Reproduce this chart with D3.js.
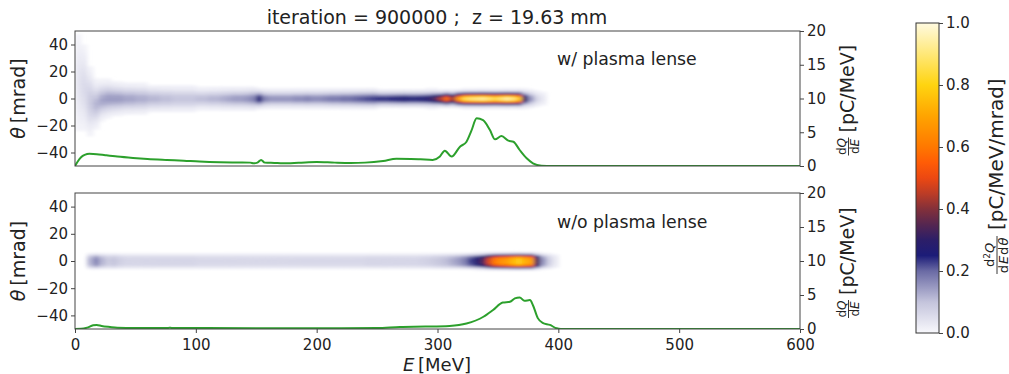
<!DOCTYPE html>
<html><head><meta charset="utf-8">
<script src="https://cdn.jsdelivr.net/npm/d3@7"></script>
<style>
body{margin:0;background:#fff}
svg{display:block}
text{font-family:"DejaVu Sans",sans-serif;fill:#222;white-space:pre}
</style></head>
<body><svg id="c" width="1009" height="374"></svg>
<script>
// ---------------- data ----------------
const titleText = "iteration = 900000 ;  z = 19.63 mm";
const panelLabels = ["w/ plasma lense", "w/o plasma lense"];
const energyTicks = [0, 100, 200, 300, 400, 500, 600];
const thetaTicks = [-40, -20, 0, 20, 40];
const dqTicks = [0, 5, 10, 15, 20];
const cbarTicks = [0, 0.2, 0.4, 0.6, 0.8, 1.0];

// energy bins of 5 MeV, starting at 0
const binStarts = d3.range(0, 400, 5);

// colormap stops
const cmapStops = [0, 0.1, 0.2, 0.25, 0.3, 0.35, 0.4, 0.45, 0.5, 0.55, 0.6, 0.7, 0.8, 0.9, 1.0];
const cmapColors = ["#f8f8fc", "#c4c4dc", "#6a6aa4", "#1c1c78", "#2c1e68", "#552650", "#83303a", "#bc3c26",
  "#ec4812", "#ff5c06", "#ff7800", "#ffa400", "#ffd410", "#ffe878", "#fffae0"];

// top panel: peak density (colour value) per energy bin
const topPeak = [0.04, 0.06, 0.09, 0.12, 0.14, 0.15, 0.15, 0.15, 0.14, 0.14,
  0.13, 0.13, 0.12, 0.12, 0.11, 0.11, 0.10, 0.10, 0.10, 0.10,
  0.11, 0.11, 0.12, 0.12, 0.13, 0.14, 0.15, 0.15, 0.16, 0.18,
  0.27, 0.18, 0.16, 0.16, 0.16, 0.16, 0.17, 0.17, 0.18, 0.17,
  0.17, 0.18, 0.19, 0.19, 0.20, 0.20, 0.21, 0.22, 0.23, 0.24,
  0.25, 0.25, 0.26, 0.27, 0.28, 0.27, 0.27, 0.28, 0.30, 0.34,
  0.45, 0.58, 0.45, 0.70, 0.88, 0.92, 0.94, 0.96, 0.92, 0.88,
  0.92, 0.97, 0.93, 0.80, 0.32, 0.16, 0.07, 0.03, 0.00, 0.00];
// top panel: angular spread (mrad) per energy bin
const topWidth = [20, 16, 12, 8, 6.5, 6, 5.5, 5.2, 5, 5,
  5, 5, 4.5, 4.5, 4.5, 4.5, 4.5, 4.5, 4.5, 4.5,
  3.8, 3.8, 3.8, 3.8, 3.8, 3.8, 3.8, 3.8, 3.8, 3.8,
  3.2, 3.2, 3.2, 3.2, 3.2, 3.2, 3.2, 3.2, 3.2, 3.2,
  3.2, 3.2, 3.2, 3.2, 3.2, 3.2, 3.2, 3.2, 3.2, 3.2,
  2.8, 2.8, 2.8, 2.8, 2.8, 2.8, 2.8, 2.8, 2.8, 2.8,
  2.5, 2.5, 2.5, 2.5, 2.5, 2.5, 2.5, 2.5, 2.5, 2.5,
  2.5, 2.5, 2.5, 2.6, 2.8, 3.0, 3.0, 3.0, 3.0, 3.0];
// top panel: angular centre (mrad) per energy bin
const topCenter = [12, 8, -2, -4, -1, 0, 0, 0, 0, 0,
  0, 0, 0, 0, 0, 0, 0, 0, 0, 0, 0, 0, 0, 0, 0, 0, 0, 0, 0, 0,
  0, 0, 0, 0, 0, 0, 0, 0, 0, 0, 0, 0, 0, 0, 0, 0, 0, 0, 0, 0,
  0, 0, 0, 0, 0, 0, 0, 0, 0, 0, 0, 0, 0, 0, 0, 0, 0, 0, 0, 0,
  0, 0, 0, 0, 0, 0, 0, 0, 0, 0];

// bottom panel
const botPeak = [0, 0, 0.12, 0.17, 0.12, 0.09, 0.10, 0.08, 0.07, 0.07,
  0.07, 0.07, 0.07, 0.07, 0.07, 0.07, 0.07, 0.07, 0.07, 0.07,
  0.065, 0.065, 0.065, 0.065, 0.065, 0.065, 0.065, 0.065, 0.065, 0.065,
  0.065, 0.065, 0.065, 0.065, 0.065, 0.065, 0.065, 0.065, 0.065, 0.065,
  0.065, 0.065, 0.065, 0.065, 0.065, 0.065, 0.065, 0.065, 0.07, 0.07,
  0.07, 0.07, 0.07, 0.07, 0.07, 0.07, 0.07, 0.075, 0.08, 0.09,
  0.10, 0.11, 0.13, 0.15, 0.18, 0.23, 0.28, 0.34, 0.48, 0.60,
  0.65, 0.68, 0.74, 0.78, 0.72, 0.68, 0.34, 0.16, 0.08, 0.03];
const botWidth = 4;   // flat-topped angular half-width (mrad)

// dQ/dE spectra: [E (MeV), pC/MeV]
const topSpectrum = [[0,0],[2,0.6],[5,1.3],[8,1.65],[12,1.8],[18,1.75],[25,1.6],[35,1.4],[48,1.2],[60,1.05],
  [76,0.9],[90,0.78],[103,0.65],[120,0.55],[135,0.52],[145,0.5],[148,0.4],[151,0.5],[154,0.9],[157,0.5],
  [165,0.45],[172,0.4],[185,0.48],[200,0.6],[215,0.5],[228,0.45],[240,0.5],[255,0.75],[266,1.08],[278,1.05],
  [286,0.99],[296,0.9],[302,1.4],[306,2.27],[311.7,1.4],[318.6,2.86],[324,3.6],[328,5.2],[332.4,7.06],[337.7,6.8],
  [343.4,5.33],[347.6,3.95],[353,4.44],[358.6,3.75],[362.8,3.6],[368,2.37],[373.8,1.14],[379,0.4],[386,0.05],[395,0],[600,0]];
const botSpectrum = [[0,0],[5,0.02],[10,0.2],[15,0.55],[18,0.6],[22,0.45],[29,0.3],[35,0.2],[50,0.15],[77,0.15],
  [78,0.2],[80,0.15],[150,0.12],[200,0.12],[250,0.15],[269,0.3],[290,0.35],[310,0.45],[324,0.8],[338,1.8],
  [346,2.8],[354,3.9],[360,4.0],[364,4.5],[368,4.65],[372,4.15],[376.5,4.25],[379,3.5],[383,1.6],[387,0.9],
  [393,0.6],[398.6,0.1],[402,0],[600,0]];

// ---------------- drawing ----------------
const svg = d3.select("#c");
const X0 = 75, X1 = 800;
const panels = [{y0: 31, y1: 166}, {y0: 193, y1: 329}];
const cmap = d3.scaleLinear().domain(cmapStops).range(cmapColors).interpolate(d3.interpolateRgb).clamp(true);
const x = d3.scaleLinear().domain([0, 600]).range([X0, X1]);
const thetaRows = d3.range(-50, 50, 1);
const TICK_FS = "15px";

const defs = svg.append("defs");
defs.append("filter").attr("id", "blur").attr("x", "-5%").attr("y", "-20%").attr("width", "110%").attr("height", "140%")
  .append("feGaussianBlur").attr("stdDeviation", "2.2 1.1");

function styleAxis(a, fs) {
  a.select(".domain").remove();
  a.selectAll("line").attr("stroke", "#444");
  a.selectAll("text").style("font-size", fs).attr("fill", "#222").style("font-family", '"DejaVu Sans",sans-serif');
}

panels.forEach((p, pi) => {
  const y = d3.scaleLinear().domain([-50, 50]).range([p.y1, p.y0]);
  const yr = d3.scaleLinear().domain([0, 20]).range([p.y1, p.y0]);
  defs.append("clipPath").attr("id", "clip" + pi).append("rect")
    .attr("x", X0).attr("y", p.y0).attr("width", X1 - X0).attr("height", p.y1 - p.y0);

  // heatmap cells
  const cells = [];
  binStarts.forEach((e, i) => {
    thetaRows.forEach(t => {
      const tc = t + 0.5;
      let v;
      if (pi === 0) {
        const z = (tc - topCenter[i]) / topWidth[i];
        v = topPeak[i] * Math.exp(-0.5 * z * z);
      } else {
        const z = tc / botWidth;
        v = botPeak[i] * Math.exp(-0.5 * Math.pow(Math.abs(z), 4));
      }
      if (v > 0.008) cells.push({e, t, v});
    });
  });
  const g = svg.append("g").attr("clip-path", `url(#clip${pi})`).append("g").attr("filter", "url(#blur)");
  g.selectAll("rect").data(cells).join("rect")
    .attr("x", d => x(d.e))
    .attr("y", d => y(d.t + 1))
    .attr("width", d => x(d.e + 5) - x(d.e) + 0.4)
    .attr("height", d => y(d.t) - y(d.t + 1) + 0.3)
    .attr("fill", d => cmap(d.v));

  // spectrum line
  const spec = pi === 0 ? topSpectrum : botSpectrum;
  svg.append("path").datum(spec)
    .attr("clip-path", `url(#clip${pi})`)
    .attr("fill", "none").attr("stroke", "#2ca02c").attr("stroke-width", 2)
    .attr("d", d3.line().x(d => x(d[0])).y(d => yr(d[1])).curve(d3.curveMonotoneX));

  // frame
  svg.append("rect").attr("x", X0).attr("y", p.y0).attr("width", X1 - X0).attr("height", p.y1 - p.y0)
    .attr("fill", "none").attr("stroke", "#444").attr("stroke-width", 1);

  // axes
  styleAxis(svg.append("g").attr("transform", `translate(${X0},0)`)
    .call(d3.axisLeft(y).tickValues(thetaTicks).tickSize(4).tickPadding(3).tickFormat(d3.format("d"))), TICK_FS);
  styleAxis(svg.append("g").attr("transform", `translate(${X1},0)`)
    .call(d3.axisRight(yr).tickValues(dqTicks).tickSize(4).tickPadding(3).tickFormat(d3.format("d"))), TICK_FS);
  if (pi === 1) {
    styleAxis(svg.append("g").attr("transform", `translate(0,${p.y1})`)
      .call(d3.axisBottom(x).tickValues(energyTicks).tickSize(4).tickPadding(6).tickFormat(d3.format("d"))), TICK_FS);
  }

  // panel annotation
  svg.append("text").attr("x", 557).attr("y", pi === 0 ? 65 : 228)
    .style("font-size", "17.3px").text(panelLabels[pi]);

  const yc = (p.y0 + p.y1) / 2;
  // left label
  const ll = svg.append("text").attr("transform", `translate(25,${yc}) rotate(-90)`)
    .attr("text-anchor", "middle").style("font-size", "19px");
  ll.append("tspan").style("font-style", "italic").text("θ");
  ll.append("tspan").text("\u2009[mrad]");

  // right label: dQ/dE [pC/MeV]
  const rg = svg.append("g").attr("transform", `translate(851,${yc}) rotate(-90)`);
  const fx = -48;
  const num = rg.append("text").attr("x", fx).attr("y", -5).attr("text-anchor", "middle").style("font-size", "12px");
  num.append("tspan").text("d"); num.append("tspan").style("font-style", "italic").text("Q");
  rg.append("line").attr("x1", fx - 9).attr("x2", fx + 9).attr("y1", -2.5).attr("y2", -2.5).attr("stroke", "#222").attr("stroke-width", 0.9);
  const den = rg.append("text").attr("x", fx).attr("y", 8).attr("text-anchor", "middle").style("font-size", "12px");
  den.append("tspan").text("d"); den.append("tspan").style("font-style", "italic").text("E");
  rg.append("text").attr("x", fx + 14).attr("y", 3).style("font-size", "19px").text("[pC/MeV]");
});

// title
svg.append("text").attr("x", 437).attr("y", 24).attr("text-anchor", "middle")
  .style("font-size", "19px").text(titleText);

// x label
const xl = svg.append("text").attr("x", 437).attr("y", 371).attr("text-anchor", "middle").style("font-size", "18px");
xl.append("tspan").style("font-style", "italic").text("E");
xl.append("tspan").text("\u2009[MeV]");

// colorbar
const CB = {x0: 916, x1: 939, y0: 23, y1: 333};
const cy = d3.scaleLinear().domain([0, 1]).range([CB.y1, CB.y0]);
const grad = defs.append("linearGradient").attr("id", "cbg").attr("x1", 0).attr("y1", 1).attr("x2", 0).attr("y2", 0);
cmapStops.forEach((s, i) => grad.append("stop").attr("offset", s).attr("stop-color", cmapColors[i]));
svg.append("rect").attr("x", CB.x0).attr("y", CB.y0).attr("width", CB.x1 - CB.x0).attr("height", CB.y1 - CB.y0)
  .attr("fill", "url(#cbg)").attr("stroke", "#333").attr("stroke-width", 1);
styleAxis(svg.append("g").attr("transform", `translate(${CB.x1},0)`)
  .call(d3.axisRight(cy).tickValues(cbarTicks).tickSize(4).tickPadding(3).tickFormat(d3.format(".1f"))), "15px");

const cg = svg.append("g").attr("transform", `translate(997,${(CB.y0 + CB.y1) / 2}) rotate(-90)`);
const cfx = -77;
const cn = cg.append("text").attr("x", cfx).attr("y", -3).attr("text-anchor", "middle").style("font-size", "13px");
cn.append("tspan").text("d");
cn.append("tspan").attr("dy", -4).style("font-size", "9px").text("2");
cn.append("tspan").attr("dy", 4).style("font-style", "italic").text("Q");
cg.append("line").attr("x1", cfx - 19).attr("x2", cfx + 19).attr("y1", 0).attr("y2", 0).attr("stroke", "#222").attr("stroke-width", 0.9);
const cd = cg.append("text").attr("x", cfx).attr("y", 10.5).attr("text-anchor", "middle").style("font-size", "13px").style("letter-spacing", "1px");
cd.append("tspan").text("d"); cd.append("tspan").style("font-style", "italic").text("E");
cd.append("tspan").text("d"); cd.append("tspan").style("font-style", "italic").text("θ");
cg.append("text").attr("x", cfx + 25).attr("y", 6).style("font-size", "20px").text("[pC/MeV/mrad]");
</script></body></html>
